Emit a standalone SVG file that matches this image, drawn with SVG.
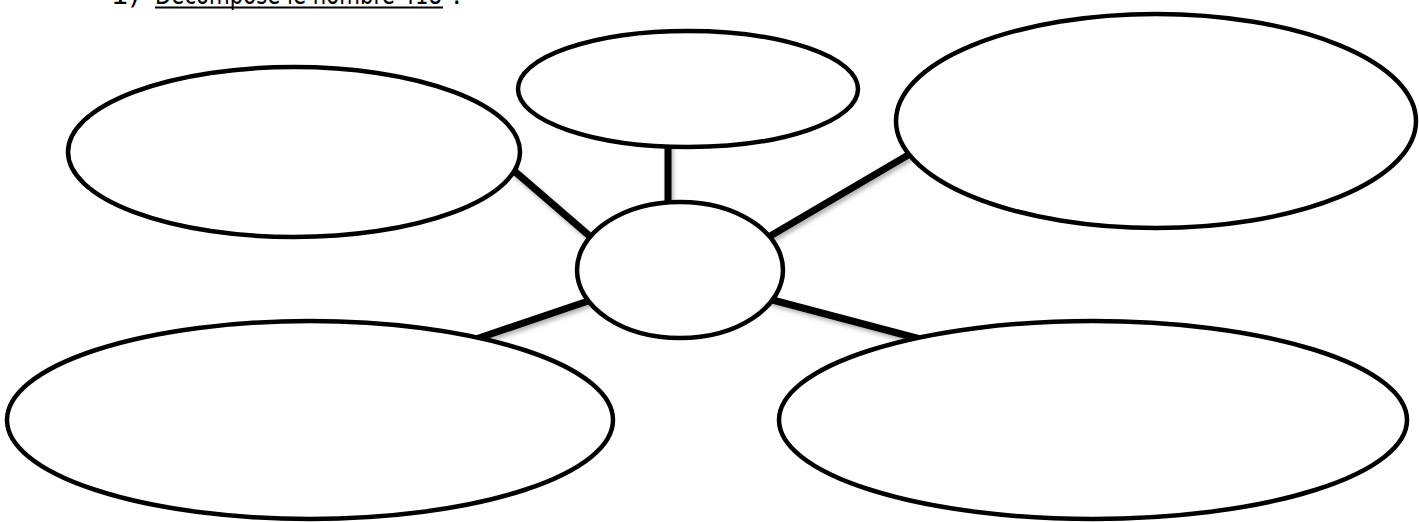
<svg xmlns="http://www.w3.org/2000/svg" width="1419" height="522" viewBox="0 0 1419 522">
<style>
.n{fill:#fff;stroke:#000;stroke-width:4.5}
.c{stroke:#000;stroke-width:7;fill:none}
.t{font-family:"DejaVu Sans","Liberation Sans",sans-serif;font-size:28px;fill:#000}
</style>
<defs>
<filter id="sh" x="-10%" y="-10%" width="130%" height="130%">
<feDropShadow dx="2" dy="3" stdDeviation="2" flood-color="#000" flood-opacity="0.3"/>
</filter>
</defs>
<rect width="1419" height="522" fill="#fff"/>
<g id="title">
<text class="t" x="111" y="4">1)</text>
<text class="t" x="155" y="4" textLength="287" lengthAdjust="spacingAndGlyphs">Décompose le nombre 418</text>
<text class="t" x="452" y="4">:</text>
<line x1="155" y1="7.5" x2="443" y2="7.5" stroke="#000" stroke-width="2"/>
</g>
<g id="connectors" filter="url(#sh)">
<line class="c" x1="505" y1="163" x2="600" y2="245"/>
<line class="c" x1="668" y1="140" x2="668" y2="210"/>
<line class="c" x1="915" y1="151" x2="760" y2="242"/>
<line class="c" x1="470" y1="341" x2="600" y2="297"/>
<line class="c" x1="765" y1="298" x2="920" y2="339"/>
</g>
<g id="node-topleft"><ellipse class="n" cx="294" cy="152" rx="226" ry="85"/></g>
<g id="node-topcenter"><ellipse class="n" cx="688" cy="89" rx="170" ry="58"/></g>
<g id="node-topright"><ellipse class="n" cx="1156" cy="121" rx="260" ry="107"/></g>
<g id="node-center"><ellipse class="n" cx="680" cy="270" rx="103" ry="68"/></g>
<g id="node-bottomleft"><ellipse class="n" cx="310" cy="420" rx="303" ry="99"/></g>
<g id="node-bottomright"><ellipse class="n" cx="1093" cy="420" rx="314" ry="99"/></g>
</svg>
